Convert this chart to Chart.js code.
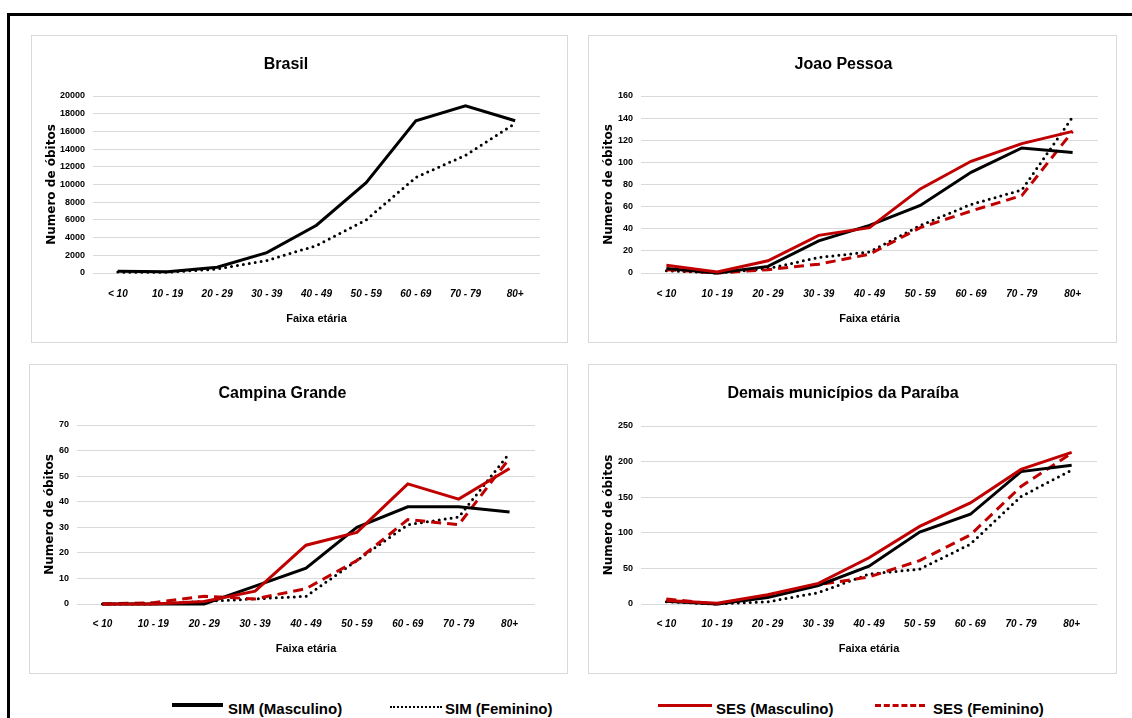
<!DOCTYPE html>
<html>
<head>
<meta charset="utf-8">
<script src="https://cdn.jsdelivr.net/npm/chart.js@4.4.1/dist/chart.umd.min.js"></script>
<style>
  html, body { margin: 0; padding: 0; background: #fff; }
  body { width: 1132px; height: 718px; position: relative; overflow: hidden; }
  .frame { position: absolute; left: 7px; top: 13px; width: 1200px; height: 800px;
           border-left: 3px solid #000; border-top: 3px solid #000; }
  .panel { position: absolute; border: 1px solid #d9d9d9; background: #fff; }
  .panel canvas { display: block; }
  .leg-line { position: absolute; height: 0; }
  .leg-text { position: absolute; font: bold 15px 'Liberation Sans', Arial, sans-serif;
              line-height: 16px; color: #000; white-space: nowrap; }
</style>
</head>
<body>
<div class="frame"></div>

<div class="panel" style="left:31px;top:35px;"><canvas id="brasil"></canvas></div>
<div class="panel" style="left:588px;top:35px;"><canvas id="joaoPessoa"></canvas></div>
<div class="panel" style="left:29px;top:364px;"><canvas id="campina"></canvas></div>
<div class="panel" style="left:588px;top:364px;"><canvas id="demais"></canvas></div>

<div class="leg-line" style="left:172px;top:703px;width:51px;border-top:4px solid #000;"></div>
<div class="leg-text" style="left:228px;top:701px;">SIM (Masculino)</div>
<div class="leg-line" style="left:390px;top:706px;width:52px;border-top:2px dotted #000;"></div>
<div class="leg-text" style="left:445px;top:701px;">SIM (Feminino)</div>
<div class="leg-line" style="left:658px;top:704px;width:54px;border-top:3px solid #c00000;"></div>
<div class="leg-text" style="left:716px;top:701px;">SES (Masculino)</div>
<div class="leg-line" style="left:875px;top:704px;width:50px;border-top:3px dashed #c00000;"></div>
<div class="leg-text" style="left:933px;top:701px;">SES (Feminino)</div>

<script>
const ageGroups = ['< 10', '10 - 19', '20 - 29', '30 - 39', '40 - 49', '50 - 59', '60 - 69', '70 - 79', '80+'];

const brasilSimMasc = [200, 150, 650, 2300, 5400, 10200, 17200, 18900, 17200];
const brasilSimFem = [100, 80, 450, 1400, 3100, 6000, 10800, 13300, 16900];

const jpSimMasc = [4, 0, 6, 29, 43, 61, 91, 113, 109];
const jpSimFem = [2, 0, 4, 14, 19, 43, 62, 75, 141];
const jpSesMasc = [7, 1, 11, 34, 41, 76, 101, 117, 128];
const jpSesFem = [3, 0, 3, 8, 17, 41, 56, 70, 128];

const cgSimMasc = [0, 0, 0, 7, 14, 30, 38, 38, 36];
const cgSimFem = [0, 0, 1, 2, 3, 17, 31, 34, 59];
const cgSesMasc = [0, 0, 1, 5, 23, 28, 47, 41, 53];
const cgSesFem = [0, 0.5, 3, 2, 6, 17, 33, 31, 57];

const pbSimMasc = [4, 0, 9, 26, 53, 101, 126, 186, 195];
const pbSimFem = [3, 0, 3, 16, 42, 49, 84, 151, 188];
const pbSesMasc = [5, 1, 13, 29, 65, 109, 142, 189, 213];
const pbSesFem = [7, 0, 10, 27, 38, 61, 97, 165, 212];

const SANS = "'Liberation Sans', Arial, sans-serif";
const RED = '#c00000';

// one entry per series style
const simMasc = (data) => ({ label: 'SIM (Masculino)', data, borderColor: '#000', borderWidth: 3, order: 1 });
const simFem = (data) => ({ label: 'SIM (Feminino)', data, borderColor: '#000', borderWidth: 3,
  borderDash: [0, 6], borderCapStyle: 'round', order: 3 });
const sesMasc = (data) => ({ label: 'SES (Masculino)', data, borderColor: RED, borderWidth: 3, order: 0 });
const sesFem = (data) => ({ label: 'SES (Feminino)', data, borderColor: RED, borderWidth: 3,
  borderDash: [10, 6], order: 2 });

function makeChart(id, opts) {
  const canvas = document.getElementById(id);
  canvas.width = opts.w;
  canvas.height = opts.h;

  return new Chart(canvas, {
    type: 'line',
    data: { labels: ageGroups, datasets: opts.datasets },
    options: {
      responsive: false,
      animation: false,
      layout: { padding: { left: 0, right: opts.right, top: 0, bottom: 0 } },
      elements: { point: { radius: 0 }, line: { tension: 0, fill: false } },
      datasets: { line: { clip: 6 } },
      plugins: {
        legend: { display: false },
        tooltip: { enabled: false },
        title: {
          display: true,
          text: opts.title,
          color: '#000',
          font: { family: SANS, size: 16, weight: 'bold' },
          padding: { top: opts.titleTop, bottom: 60 - opts.titleTop - 19.2 + opts.topShift }
        }
      },
      scales: {
        x: {
          offset: true,
          grid: { display: false, drawTicks: false },
          border: { display: false },
          ticks: {
            color: '#000',
            padding: opts.xPad,
            font: { family: SANS, size: 10, weight: 'bold', style: 'italic' }
          },
          title: {
            display: true,
            text: 'Faixa etária',
            color: '#000',
            font: { family: SANS, size: 11, weight: 'bold' },
            padding: { top: 0, bottom: opts.xTitleBottom }
          },
          afterFit: (scale) => { scale.height = opts.xHeight; }
        },
        y: {
          min: 0,
          max: opts.yMax,
          grid: { color: '#d9d9d9', lineWidth: 1, drawTicks: false },
          border: { display: false },
          ticks: {
            stepSize: opts.yStep,
            color: '#000',
            padding: 8,
            font: { family: SANS, size: 9, weight: 'bold' },
            callback: (v) => String(v)
          },
          title: {
            display: true,
            text: 'Numero de óbitos',
            color: '#000',
            font: { family: "'DejaVu Sans', sans-serif", size: 12, weight: 'bold' },
            padding: { top: 13, bottom: 0 }
          },
          afterFit: (scale) => { scale.width = opts.yWidth; }
        }
      }
    }
  });
}

makeChart('brasil', {
  w: 535, h: 306, title: 'Brasil', right: 27, yWidth: 61, xHeight: 69,
  titleTop: 19, topShift: 0, xPad: 15, xTitleBottom: 16, yMax: 20000, yStep: 2000,
  datasets: [simMasc(brasilSimMasc), simFem(brasilSimFem)]
});

makeChart('joaoPessoa', {
  w: 527, h: 306, title: 'Joao Pessoa', right: 18, yWidth: 52, xHeight: 69,
  titleTop: 19, topShift: 0, xPad: 15, xTitleBottom: 16, yMax: 160, yStep: 20,
  datasets: [simMasc(jpSimMasc), simFem(jpSimFem), sesMasc(jpSesMasc), sesFem(jpSesFem)]
});

makeChart('campina', {
  w: 537, h: 308, title: 'Campina Grande', right: 32, yWidth: 47, xHeight: 69,
  titleTop: 19, topShift: 0, xPad: 14, xTitleBottom: 17, yMax: 70, yStep: 10,
  datasets: [simMasc(cgSimMasc), simFem(cgSimFem), sesMasc(cgSesMasc), sesFem(cgSesFem)]
});

makeChart('demais', {
  w: 527, h: 308, title: 'Demais municípios da Paraíba', right: 19, yWidth: 52, xHeight: 69,
  titleTop: 19, topShift: 1, xPad: 14, xTitleBottom: 17, yMax: 250, yStep: 50,
  datasets: [simMasc(pbSimMasc), simFem(pbSimFem), sesMasc(pbSesMasc), sesFem(pbSesFem)]
});
</script>
</body>
</html>
